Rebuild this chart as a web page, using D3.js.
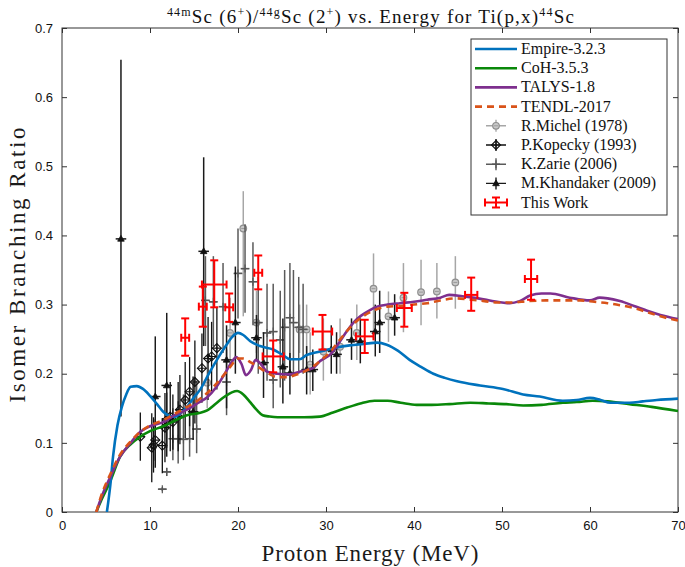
<!DOCTYPE html>
<html><head><meta charset="utf-8">
<script src="https://cdn.jsdelivr.net/npm/d3@7"></script>
<style>body{margin:0;background:#fff} svg{display:block}</style>
</head><body>
<svg id="c" width="685" height="567"></svg>
<script>
// ---- model curves ----
const empireE = [5.1,5.5,5.8,6.3,6.8,7.3,7.8,8.5,9.2,10,10.8,11.5,12.2,12.8,13.4,14.2,15,15.7,16.6,17.6,18.6,19.4,20,20.6,21.4,22.5,24,25.1,25.9,27,27.8,29.3,31.2,32.7,34.3,35.8,36.9,38.2,39.5,40.8,42.2,43.5,44.9,47.5,50.1,52.4,54.3,56.9,58.5,60,61.2,62.3,64.5,66,67.6,70];
const empireR = [0,0.04,0.08,0.125,0.152,0.17,0.181,0.182,0.178,0.168,0.156,0.145,0.139,0.138,0.142,0.152,0.166,0.177,0.198,0.22,0.24,0.254,0.259,0.256,0.247,0.24,0.235,0.227,0.221,0.221,0.227,0.232,0.238,0.241,0.243,0.245,0.242,0.233,0.22,0.21,0.2,0.194,0.189,0.183,0.178,0.17,0.167,0.161,0.162,0.165,0.162,0.158,0.158,0.16,0.162,0.164];
const cohE = [3.9,4.5,5.5,6.6,7.8,8.9,10,11.5,12.8,14.2,15.5,16.5,17.5,18.5,19.3,19.9,20.6,21.3,22.1,22.8,23.6,24.5,26,27.5,29.3,30.8,32.4,33.9,35.5,37,38.5,40.3,42,44,46.4,48.5,50.5,52.4,54.5,56.9,58.5,60.3,62,64.5,67,70];
const cohR = [0,0.018,0.045,0.08,0.098,0.109,0.117,0.124,0.132,0.14,0.143,0.147,0.157,0.167,0.173,0.175,0.17,0.16,0.148,0.14,0.138,0.137,0.137,0.137,0.138,0.144,0.151,0.157,0.161,0.161,0.158,0.155,0.155,0.156,0.158,0.157,0.156,0.154,0.155,0.158,0.159,0.161,0.16,0.156,0.152,0.146];
const talysE = [3.9,4.5,5.5,6.6,7.8,8.9,10,11.5,12.8,14.2,15.5,16.5,17.5,18.5,19.2,19.8,20.4,20.9,21.5,22.0,22.6,23.3,24.5,25.9,27,28.5,29.3,30.5,31.5,32.4,33.2,34,35,35.8,37,38.4,40,41.5,43,44,45.5,46.7,48.6,50.9,52,53.2,54.5,55.5,57.7,60,61.1,62,63.4,65,66.5,68,70];
const talysR = [0,0.022,0.051,0.08,0.1,0.116,0.124,0.13,0.14,0.148,0.158,0.166,0.18,0.2,0.215,0.224,0.214,0.198,0.206,0.22,0.214,0.203,0.2,0.199,0.203,0.208,0.218,0.228,0.245,0.262,0.275,0.284,0.292,0.297,0.3,0.302,0.304,0.307,0.31,0.314,0.312,0.31,0.306,0.302,0.305,0.313,0.316,0.316,0.31,0.306,0.31,0.309,0.305,0.298,0.291,0.285,0.279];
const tendlE = [3.9,4.5,5.5,6.6,7.8,8.9,10,11.5,12.8,14.2,15.5,16.5,17.5,18.5,19.3,19.9,20.6,21.5,22.5,23.5,24.5,25.5,26.5,27.5,28.5,29.5,30.5,31.5,32.4,33.3,34.2,35.5,37,38.4,40,41.5,43,44.9,46.5,48,49.4,51,53,55,57,58.9,60.5,62,63,65,66.5,68,70];
const tendlR = [0,0.025,0.055,0.083,0.102,0.116,0.125,0.133,0.142,0.152,0.162,0.172,0.185,0.2,0.213,0.222,0.222,0.216,0.208,0.2,0.195,0.195,0.198,0.203,0.21,0.22,0.232,0.248,0.262,0.274,0.283,0.292,0.297,0.298,0.3,0.302,0.306,0.309,0.307,0.305,0.303,0.303,0.305,0.306,0.306,0.306,0.304,0.302,0.3,0.295,0.289,0.283,0.277];

// ---- experimental data ----
const miE  = [16.5,19.1,20.6,22.1,27.0,27.8,28.2,29.7,31.6,33.5,35.4,37.1,38.8,40.8,42.6,44.7];
const miR  = [0.187,0.259,0.41,0.274,0.264,0.264,0.213,0.232,0.239,0.259,0.323,0.283,0.31,0.318,0.319,0.332];
const miLo = [0.15,0.21,0.283,0.23,0.23,0.23,0.17,0.19,0.2,0.22,0.249,0.246,0.26,0.27,0.28,0.294];
const miHi = [0.225,0.31,0.464,0.32,0.3,0.3,0.26,0.28,0.28,0.3,0.374,0.319,0.36,0.365,0.36,0.37];

const kpE   = [8.9,10.2,10.4,10.6,11.4,11.7,11.9,12.3,12.6,13.2,13.4,14.0,14.5,15.1,15.9,16.6,17.0,17.6];
const kpR   = [0.109,0.093,0.097,0.104,0.096,0.122,0.133,0.138,0.13,0.138,0.148,0.162,0.174,0.188,0.208,0.222,0.225,0.237];
const kpErr = [0.035,0.05,0.04,0.03,0.04,0.05,0.04,0.05,0.04,0.05,0.05,0.055,0.05,0.06,0.05,0.06,0.05,0.06];

const zaE  = [11.4,11.9,12.6,13.2,13.8,14.5,15.3,16.3,17.2,18.3,18.7,20.0,20.8,21.7,22.3,23.3,24.0,24.0,24.8,25.3,25.9,26.3,26.9,27.4];
const zaR  = [0.033,0.058,0.106,0.106,0.105,0.106,0.12,0.306,0.304,0.297,0.188,0.345,0.352,0.333,0.274,0.259,0.261,0.191,0.249,0.267,0.281,0.274,0.267,0.264];
const zaLo = [0.03,0.052,0.075,0.07,0.075,0.08,0.085,0.24,0.24,0.23,0.14,0.28,0.288,0.27,0.2,0.19,0.19,0.15,0.18,0.19,0.2,0.2,0.2,0.2];
const zaHi = [0.036,0.064,0.15,0.16,0.17,0.18,0.19,0.37,0.37,0.36,0.235,0.41,0.416,0.39,0.34,0.33,0.33,0.23,0.32,0.35,0.36,0.35,0.34,0.33];

const khE  = [6.7,10.6,11.9,14.9,16.1,18.7,19.7,22.1,22.9,25.1,25.9,27.8,28.5,30.6,31.2,32.9,33.9,35.6,36.1,37.8];
const khR  = [0.395,0.167,0.183,0.145,0.377,0.22,0.274,0.252,0.216,0.21,0.201,0.206,0.206,0.235,0.228,0.249,0.247,0.261,0.274,0.281];
const khLo = [0.138,0.064,0.08,0.104,0.24,0.15,0.2,0.22,0.165,0.157,0.17,0.17,0.175,0.2,0.2,0.22,0.215,0.225,0.23,0.255];
const khHi = [0.654,0.254,0.288,0.196,0.513,0.27,0.355,0.285,0.26,0.28,0.23,0.24,0.235,0.27,0.26,0.28,0.28,0.3,0.32,0.315];

const twE  = [14.0,16.0,17.3,19.0,22.3,24.0,29.6,34.4,38.9,46.5,53.3];
const twR  = [0.252,0.297,0.329,0.296,0.346,0.225,0.261,0.254,0.295,0.314,0.337];
const twLo = [0.226,0.268,0.296,0.275,0.322,0.202,0.235,0.23,0.268,0.291,0.307];
const twHi = [0.28,0.326,0.364,0.316,0.371,0.248,0.285,0.278,0.317,0.339,0.365];
const twDE = [0.45,0.45,1.4,0.45,0.45,1.2,1.1,1.0,0.85,0.7,0.7];

const xTicks = [0,10,20,30,40,50,60,70];
const yTicks = [0,0.1,0.2,0.3,0.4,0.5,0.6,0.7];
const yTickLabels = ["0","0.1","0.2","0.3","0.4","0.5","0.6","0.7"];
const legendLabels = ["Empire-3.2.3","CoH-3.5.3","TALYS-1.8","TENDL-2017","R.Michel (1978)","P.Kopecky (1993)","K.Zarie (2006)","M.Khandaker (2009)","This Work"];

const C = {empire:"#0072BD", coh:"#0A880A", talys:"#7E2F8E", tendl:"#D95319"};
const SERIF = "'Liberation Serif','DejaVu Serif',serif";
const SANS = "'Liberation Sans',Arial,sans-serif";

const svg = d3.select("#c");
const x = d3.scaleLinear().domain([0,70]).range([62,678]);
const y = d3.scaleLinear().domain([0,0.7]).range([512,28]);

svg.append("defs").append("clipPath").attr("id","clip")
  .append("rect").attr("x",62).attr("y",28).attr("width",616).attr("height",484);

// axes
const axCol = "#333";
function styleAxis(g){ g.select(".domain").remove(); g.selectAll("line").attr("stroke",axCol);
  g.selectAll("text").attr("fill","#111").style("font-family",SANS).style("font-size","13px"); }
svg.append("g").attr("transform","translate(0,512)")
  .call(d3.axisBottom(x).tickValues(xTicks).tickSizeInner(-5).tickSizeOuter(0).tickPadding(9).tickFormat(d3.format("d")))
  .call(styleAxis);
svg.append("g").attr("transform","translate(0,28)")
  .call(d3.axisTop(x).tickValues(xTicks).tickSizeInner(-5).tickSizeOuter(0).tickFormat(""))
  .call(styleAxis);
svg.append("g").attr("transform","translate(62,0)")
  .call(d3.axisLeft(y).tickValues(yTicks).tickSizeInner(-5).tickSizeOuter(0).tickPadding(9).tickFormat((d,i)=>yTickLabels[i]))
  .call(styleAxis);
svg.append("g").attr("transform","translate(678,0)")
  .call(d3.axisRight(y).tickValues(yTicks).tickSizeInner(-5).tickSizeOuter(0).tickFormat(""))
  .call(styleAxis);
svg.append("rect").attr("x",62).attr("y",28).attr("width",616).attr("height",484)
  .attr("fill","none").attr("stroke",axCol).attr("stroke-width",1);

const plot = svg.append("g").attr("clip-path","url(#clip)");

// error-bar helper
function errSeries(E,R,Lo,Hi,dE,opt){
  const g = plot.append("g");
  E.forEach((e,i)=>{
    g.append("line").attr("x1",x(e)).attr("x2",x(e)).attr("y1",y(Lo[i])).attr("y2",y(Hi[i]))
      .attr("stroke",opt.color).attr("stroke-width",opt.w);
    const d = Array.isArray(dE)?dE[i]:dE;
    if(d>0) g.append("line").attr("x1",x(e-d)).attr("x2",x(e+d)).attr("y1",y(R[i])).attr("y2",y(R[i]))
      .attr("stroke",opt.color).attr("stroke-width",opt.w);
    if(opt.cap){
      const cx=opt.cap;
      g.append("line").attr("x1",x(e)-cx).attr("x2",x(e)+cx).attr("y1",y(Lo[i])).attr("y2",y(Lo[i])).attr("stroke",opt.color).attr("stroke-width",opt.w);
      g.append("line").attr("x1",x(e)-cx).attr("x2",x(e)+cx).attr("y1",y(Hi[i])).attr("y2",y(Hi[i])).attr("stroke",opt.color).attr("stroke-width",opt.w);
      if(d>0){
        g.append("line").attr("x1",x(e-d)).attr("x2",x(e-d)).attr("y1",y(R[i])-cx).attr("y2",y(R[i])+cx).attr("stroke",opt.color).attr("stroke-width",opt.w);
        g.append("line").attr("x1",x(e+d)).attr("x2",x(e+d)).attr("y1",y(R[i])-cx).attr("y2",y(R[i])+cx).attr("stroke",opt.color).attr("stroke-width",opt.w);
      }
    }
    if(opt.marker) opt.marker(g, x(e), y(R[i]));
  });
}
const mk = {
  circle:(g,cx,cy)=>{ g.append("circle").attr("cx",cx).attr("cy",cy).attr("r",3.3).attr("fill","#c8c8c8").attr("stroke","#8f8f8f").attr("stroke-width",1.2);
    g.append("line").attr("x1",cx-2).attr("x2",cx+2).attr("y1",cy).attr("y2",cy).attr("stroke","#8f8f8f").attr("stroke-width",0.8);},
  diamond:(g,cx,cy)=>{ g.append("path").attr("d",`M${cx},${cy-4.5}L${cx+4.5},${cy}L${cx},${cy+4.5}L${cx-4.5},${cy}Z`).attr("fill","none").attr("stroke","#111").attr("stroke-width",1.1);
    g.append("path").attr("d",`M${cx-4.5},${cy}H${cx+4.5}M${cx},${cy-4.5}V${cy+4.5}`).attr("stroke","#111").attr("stroke-width",1.1);},
  plus:(g,cx,cy)=>{ g.append("path").attr("d",`M${cx-4},${cy}H${cx+4}M${cx},${cy-4}V${cy+4}`).attr("stroke","#555").attr("stroke-width",1.2);},
  tri:(g,cx,cy)=>{ g.append("path").attr("d",`M${cx},${cy-3.5}L${cx+3.3},${cy+2.3}L${cx-3.3},${cy+2.3}Z`).attr("fill","#111").attr("stroke","#111").attr("stroke-width",0.8);}
};

// Michel (light gray)
errSeries(miE,miR,miLo,miHi,0,{color:"#a6a6a6",w:1.5,marker:mk.circle});
// Zarie (dark gray)
errSeries(zaE,zaR,zaLo,zaHi,0.5,{color:"#5a5a5a",w:1.5,marker:mk.plus});
// Kopecky
errSeries(kpE,kpR,kpE.map((e,i)=>kpR[i]-kpErr[i]),kpE.map((e,i)=>kpR[i]+kpErr[i]),0,{color:"#111",w:1.3,marker:mk.diamond});
// Khandaker
errSeries(khE,khR,khLo,khHi,0.6,{color:"#1a1a1a",w:1.5,marker:mk.tri});

// curves
const line = d3.line().x(d=>x(d[0])).y(d=>y(d[1])).curve(d3.curveMonotoneX);
function curve(E,R,col,dash){
  plot.append("path").datum(E.map((e,i)=>[e,R[i]])).attr("d",line).attr("fill","none")
    .attr("stroke",col).attr("stroke-width",2.6).attr("stroke-dasharray",dash||null);
}
curve(cohE,cohR,C.coh);
curve(empireE,empireR,C.empire);
curve(talysE,talysR,C.talys);
curve(tendlE,tendlR,C.tendl,"7,5");

// This work (red)
errSeries(twE,twR,twLo,twHi,twDE,{color:"#ff0000",w:2,cap:4});

// title
const title = svg.append("text").attr("x",371).attr("y",23).attr("text-anchor","middle")
  .style("font-family",SERIF).style("font-size","19px").style("letter-spacing","1.2px").attr("fill","#111");
const tparts = [["44m",1],["Sc (6",0],["+",1],[")/",0],["44g",1],["Sc (2",0],["+",1],[") vs. Energy for Ti(p,x)",0],["44",1],["Sc",0]];
tparts.forEach(p=>{ title.append("tspan").text(p[0]).style("font-size",p[1]?"12px":"19px").attr("baseline-shift",p[1]?"7":"0"); });

// axis labels
svg.append("text").attr("x",370).attr("y",561).attr("text-anchor","middle")
  .attr("textLength",217).attr("lengthAdjust","spacing")
  .style("font-family",SERIF).style("font-size","23px").attr("fill","#1a1a1a").text("Proton Energy (MeV)");
svg.append("text").attr("transform","translate(25,265) rotate(-90)").attr("text-anchor","middle")
  .attr("textLength",275).attr("lengthAdjust","spacing")
  .style("font-family",SERIF).style("font-size","23px").attr("fill","#1a1a1a").text("Isomer Branching Ratio");

// legend
const lg = svg.append("g");
lg.append("rect").attr("x",471).attr("y",39).attr("width",196).attr("height",176).attr("fill","#fff").attr("stroke","#333");
legendLabels.forEach((lab,i)=>{
  const yy = 49 + i*19.2;
  const row = lg.append("g");
  if(i<4){
    const col=[C.empire,C.coh,C.talys,C.tendl][i];
    row.append("line").attr("x1",475).attr("x2",517).attr("y1",yy).attr("y2",yy).attr("stroke",col).attr("stroke-width",2.6).attr("stroke-dasharray",i===3?"7,5":null);
  } else {
    const cx=496;
    const specs=[["#a6a6a6",mk.circle],["#111",mk.diamond],["#5a5a5a",mk.plus],["#1a1a1a",mk.tri],["#ff0000",null]][i-4];
    if(i===8){
      row.append("path").attr("d",`M${cx-11},${yy}H${cx+11}M${cx-11},${yy-4}V${yy+4}M${cx+11},${yy-4}V${yy+4}M${cx},${yy-5}V${yy+5}M${cx-4},${yy-5}H${cx+4}M${cx-4},${yy+5}H${cx+4}`)
        .attr("stroke","#ff0000").attr("stroke-width",2).attr("fill","none");
    } else {
      row.append("path").attr("d",`M${cx-10},${yy}H${cx+10}M${cx},${yy-6}V${yy+6}`).attr("stroke",specs[0]).attr("stroke-width",1.4);
      specs[1](row,cx,yy);
    }
  }
  row.append("text").attr("x",521).attr("y",yy+5).style("font-family",SERIF).style("font-size","16px").attr("fill","#111").text(lab);
});
</script>
</body></html>
